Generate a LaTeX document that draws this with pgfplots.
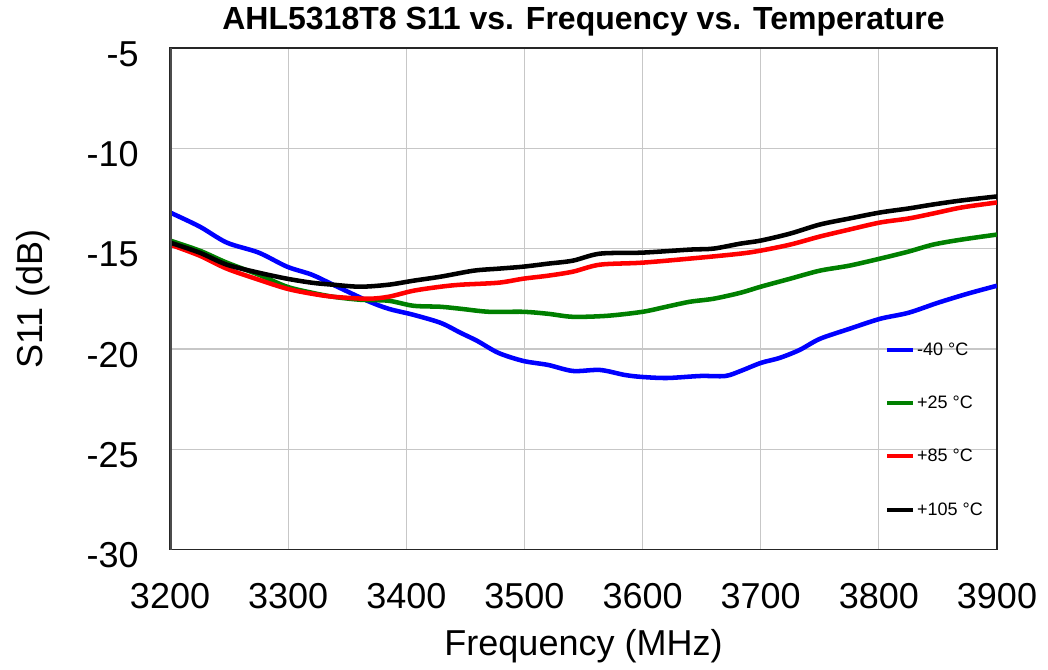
\documentclass[border=0pt]{standalone}
\usepackage{pgfplots}
\pgfplotsset{compat=1.18}
\usepackage{fontspec}
\setmainfont{Liberation Sans}
\begin{document}
\begin{tikzpicture}
\begin{axis}[
  name=ax,
  width=620pt, height=376pt, scale only axis,
  xmin=3200, xmax=3900, ymin=-30, ymax=-5,
  xtick={3200,3300,...,3900}, ytick={-30,-25,...,-5},
  grid=major, major grid style={black!22, line width=0.9pt},
  axis line style={black!85, line width=1.2pt},
  tick style={draw=none},
  /pgf/number format/assume math mode=true,
  /pgf/number format/1000 sep={},
  ticklabel style={font=\fontsize{27}{30}\selectfont, inner sep=0pt},
  xticklabel style={anchor=north, yshift=-25.5pt},
  yticklabel style={anchor=east, xshift=-23.3pt, yshift=-4.5pt},
  xlabel={Frequency (MHz)}, ylabel={S11 (dB)},
  xlabel style={font=\fontsize{27}{30}\selectfont, at={(axis description cs:0.5,-0.2114)}, anchor=base},
  ylabel style={font=\fontsize{27}{30}\selectfont, at={(axis description cs:-0.1548,0.5)}, rotate=0, anchor=base},
  title={AHL5318T8 S11 vs. Frequency vs. Temperature},
  every axis title shift=0pt,
  title style={font=\fontsize{24}{26}\selectfont\bfseries, at={(axis description cs:0.5,1.0519)}, anchor=center, yshift=0pt},
  legend style={draw=none, fill=none, at={(0.860,0.4236)}, anchor=north west,
    font=\fontsize{13.5}{15}\selectfont, row sep=25pt},
  legend cell align=left,
  legend image code/.code={\draw[#1, line width=3pt] (0cm,0cm) -- (0.66cm,0cm);},
  every axis plot/.append style={line width=3.4pt, smooth},
]
\addplot[blue] coordinates {
(3200,-13.2)(3225,-13.9)(3248,-14.7)(3275,-15.2)(3299,-15.9)(3320,-16.3)(3338,-16.8)(3367,-17.6)(3385,-18.0)(3406,-18.3)(3429,-18.7)(3446,-19.2)(3460,-19.6)(3478,-20.2)(3499,-20.6)(3520,-20.8)(3541,-21.1)(3564,-21.05)(3585,-21.3)(3600,-21.4)(3621,-21.45)(3649,-21.35)(3670,-21.35)(3683,-21.1)(3700,-20.7)(3716,-20.45)(3733,-20.05)(3750,-19.5)(3775,-19.0)(3801,-18.5)(3825,-18.2)(3850,-17.7)(3875,-17.25)(3900,-16.85)};
\addlegendentry{-40 °C}
\addplot[green!50!black] coordinates {
(3200,-14.6)(3225,-15.1)(3248,-15.7)(3275,-16.3)(3299,-16.9)(3320,-17.2)(3338,-17.4)(3361,-17.55)(3385,-17.6)(3406,-17.85)(3429,-17.9)(3446,-18.0)(3470,-18.15)(3499,-18.15)(3520,-18.25)(3541,-18.4)(3570,-18.35)(3600,-18.15)(3620,-17.9)(3640,-17.65)(3660,-17.5)(3683,-17.2)(3700,-16.9)(3725,-16.5)(3750,-16.1)(3775,-15.85)(3801,-15.5)(3825,-15.15)(3846,-14.8)(3870,-14.55)(3900,-14.3)};
\addlegendentry{+25 °C}
\addplot[red] coordinates {
(3200,-14.8)(3225,-15.35)(3248,-16.0)(3275,-16.55)(3299,-17.0)(3320,-17.25)(3338,-17.4)(3367,-17.5)(3385,-17.4)(3406,-17.1)(3429,-16.9)(3446,-16.8)(3478,-16.7)(3499,-16.5)(3520,-16.35)(3541,-16.15)(3564,-15.8)(3600,-15.7)(3649,-15.45)(3683,-15.25)(3700,-15.1)(3725,-14.8)(3750,-14.4)(3775,-14.05)(3801,-13.7)(3825,-13.5)(3846,-13.25)(3870,-12.95)(3900,-12.7)};
\addlegendentry{+85 °C}
\addplot[black] coordinates {
(3200,-14.7)(3225,-15.2)(3248,-15.8)(3275,-16.2)(3299,-16.5)(3320,-16.7)(3338,-16.8)(3361,-16.9)(3385,-16.8)(3406,-16.6)(3429,-16.4)(3457,-16.1)(3478,-16.0)(3499,-15.9)(3520,-15.75)(3541,-15.6)(3564,-15.25)(3600,-15.2)(3640,-15.05)(3660,-15.0)(3683,-14.75)(3700,-14.6)(3725,-14.25)(3750,-13.8)(3775,-13.5)(3801,-13.2)(3825,-13.0)(3846,-12.8)(3870,-12.6)(3900,-12.4)};
\addlegendentry{+105 °C}
\draw[black!70, line width=2.2pt] (rel axis cs:0,0) -- (rel axis cs:0,1);
\end{axis}
\pgfresetboundingbox
\path[use as bounding box] ([xshift=-127.5pt,yshift=-90pt]ax.south west) rectangle ([xshift=38.25pt,yshift=36pt]ax.north east);
\end{tikzpicture}
\end{document}
